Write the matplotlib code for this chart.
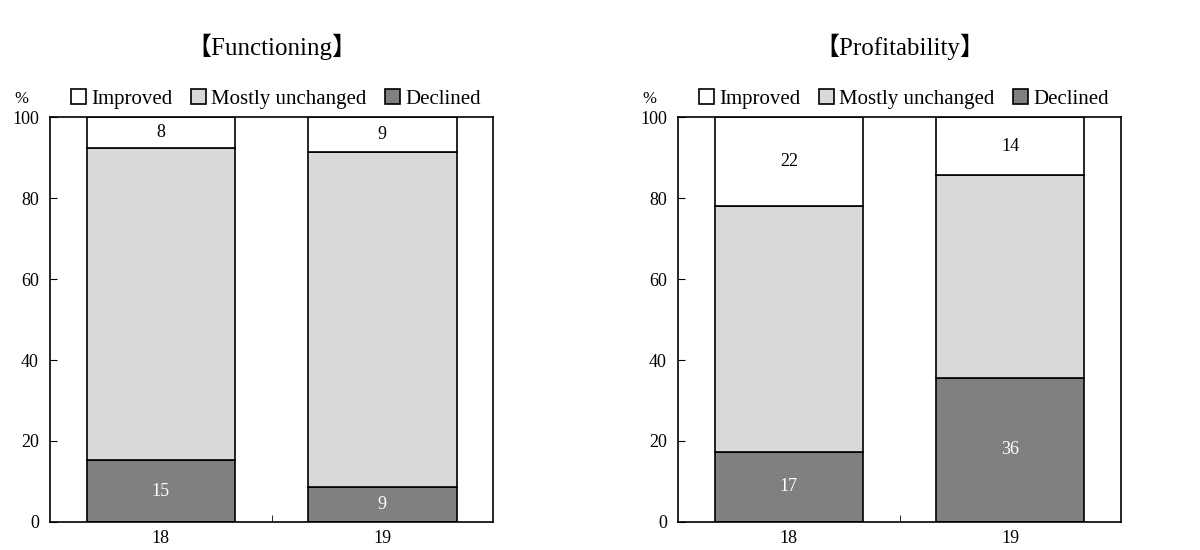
import matplotlib
matplotlib.use('Agg')
import matplotlib.pyplot as plt
import numpy as np

plt.rcParams['font.family'] = ['Liberation Serif', 'Noto Sans CJK JP']

years = ['18', '19']
series_names = ['Improved', 'Mostly unchanged', 'Declined']

# Functioning
func_declined = [15.2, 8.6]
func_unchanged = [77.1, 82.9]
func_improved = [7.7, 8.6]

# Profitability
prof_declined = [17.3, 35.6]
prof_unchanged = [60.8, 50.1]
prof_improved = [21.9, 14.3]

titles = ['【Functioning】', '【Profitability】']

col_improved = 'white'
col_unchanged = '#d9d9d9'
col_declined = '#808080'

fig = plt.figure(figsize=(12, 5.5), dpi=100)
ax1 = fig.add_axes([0.0417, 0.051, 0.3692, 0.736])
ax2 = fig.add_axes([0.565, 0.051, 0.3692, 0.736])

panels = [(ax1, func_declined, func_unchanged, func_improved),
          (ax2, prof_declined, prof_unchanged, prof_improved)]

for k, (ax, dec, unc, imp) in enumerate(panels):
    x = np.arange(len(years))
    dec = np.array(dec)
    unc = np.array(unc)
    imp = np.array(imp)
    w = 0.67
    b3 = ax.bar(x, dec, w, color=col_declined, edgecolor='black', lw=1.2, label=series_names[2])
    b2 = ax.bar(x, unc, w, bottom=dec, color=col_unchanged, edgecolor='black', lw=1.2, label=series_names[1])
    b1 = ax.bar(x, imp, w, bottom=dec + unc, color=col_improved, edgecolor='black', lw=1.2, label=series_names[0])

    for i in range(len(x)):
        ax.text(x[i], dec[i] / 2, '%d' % round(dec[i]), ha='center', va='center',
                color='white', fontsize=13)
        ax.text(x[i], dec[i] + unc[i] + imp[i] / 2, '%d' % round(imp[i]), ha='center',
                va='center', color='black', fontsize=13)

    ax.set_xlim(-0.5, 1.5)
    ax.set_ylim(0, 100)
    ax.set_yticks(range(0, 101, 20))
    ax.tick_params(axis='y', direction='in', length=5, labelsize=13, pad=8)
    ax.set_xticks(x)
    ax.set_xticklabels(years)
    ax.tick_params(axis='x', which='major', length=0, labelsize=13, pad=6)
    ax.set_xticks([0.5], minor=True)
    ax.tick_params(axis='x', which='minor', direction='in', length=5)
    for s in ax.spines.values():
        s.set_linewidth(1.2)

    ax.text(-0.065, 1.045, '%', transform=ax.transAxes, ha='center', va='center', fontsize=12)
    ax.set_title(titles[k], fontsize=18, pad=45)

    handles = [b1, b2, b3]
    ax.legend(handles, series_names, loc='lower center', bbox_to_anchor=(0.51, 0.995),
              ncol=3, frameon=False, fontsize=15, handlelength=0.7, handleheight=0.7,
              handletextpad=0.25, columnspacing=0.9, borderaxespad=0.1)

fig.savefig('out.png', dpi=100)
